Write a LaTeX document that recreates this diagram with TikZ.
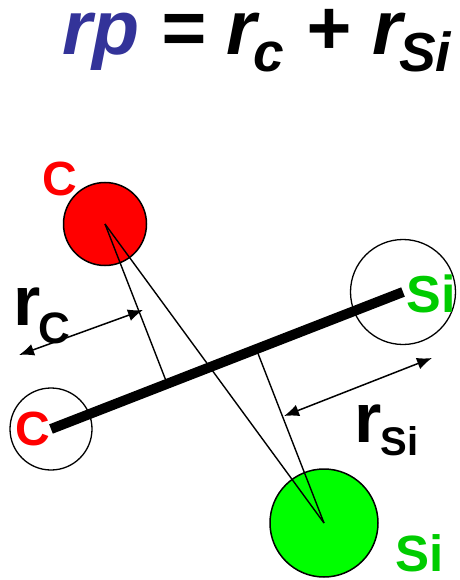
\documentclass[tikz,border=0pt]{standalone}
\usepackage{fontspec}
\setmainfont{Liberation Sans}
\usetikzlibrary{arrows.meta,calc}
\definecolor{titleblue}{RGB}{51,51,153}
\definecolor{sigreen}{RGB}{0,204,0}
\definecolor{ballgreen}{RGB}{0,255,0}
\tikzset{
  atom/.style={circle, draw=black, line width=1.5pt, inner sep=0pt},
  ghost/.style={circle, draw=black, line width=1.3pt, inner sep=0pt},
  thinline/.style={line width=1.4pt, black},
  bar/.style={line width=10pt, black},
  dimarrow/.style={line width=1.5pt, {Latex[length=15pt,width=12pt]}-{Latex[length=15pt,width=12pt]}},
  lbl/.style={inner sep=0pt, font=\bfseries\fontsize{48}{48}\selectfont},
}
\begin{document}
\begin{tikzpicture}[x=1pt,y=-1pt]
\useasboundingbox (0,0) rectangle (459,580);
% title
\node[anchor=base west, inner sep=0pt, font=\bfseries\itshape\fontsize{77}{77}\selectfont] (title) at (62,55)
  {\textcolor{titleblue}{rp} = r\kern-3pt\raisebox{-17pt}{\fontsize{55}{55}\selectfont c} + r\kern-3pt\raisebox{-17pt}{\fontsize{55}{55}\selectfont Si}};
% atoms
\node[atom, fill=red, minimum size=83pt] (cA) at (105,224) {};
\node[atom, fill=ballgreen, minimum size=108pt] (siA) at (324,523) {};
\node[ghost, minimum size=82pt] (cB) at (51,429) {};
\node[ghost, minimum size=105pt] (siB) at (403,292) {};
% feet of perpendiculars on the bond
\coordinate (f1) at ($(cB.center)!(cA.center)!(siB.center)$);
\coordinate (f2) at ($(cB.center)!(siA.center)!(siB.center)$);
\draw[thinline] (cA.center) -- (f1);
\draw[thinline] (cA.center) -- (siA.center);
\draw[thinline] (siA.center) -- (f2);
% bond
\draw[bar] (cB.center) -- (siB.center);
% dimension arrows
\coordinate (a1) at (19,355);
\coordinate (a2) at (143,310);
\coordinate (b1) at (284,416);
\coordinate (b2) at (432,358);
\draw[dimarrow] (a1) -- (a2);
\draw[dimarrow] (b1) -- (b2);
% labels
\node[lbl, text=red] (lc1) at (60,179) {C};
\node[lbl, text=red] (lc2) at (33,429) {C};
\node[lbl, text=sigreen, font=\bfseries\fontsize{52}{52}\selectfont] (ls1) at (431,294) {Si};
\node[lbl, text=sigreen, font=\bfseries\fontsize{51}{51}\selectfont] (ls2) at (420,553) {Si};
\node[anchor=base west, inner sep=0pt, font=\bfseries\fontsize{70}{70}\selectfont] (rc) at (13,325)
  {r\kern-2pt\raisebox{-18pt}{\fontsize{44}{44}\selectfont C}};
\node[anchor=base west, inner sep=0pt, font=\bfseries\fontsize{70}{70}\selectfont] (rsi) at (354,442)
  {r\kern-1pt\raisebox{-13pt}{\fontsize{40}{40}\selectfont Si}};
\end{tikzpicture}
\end{document}
